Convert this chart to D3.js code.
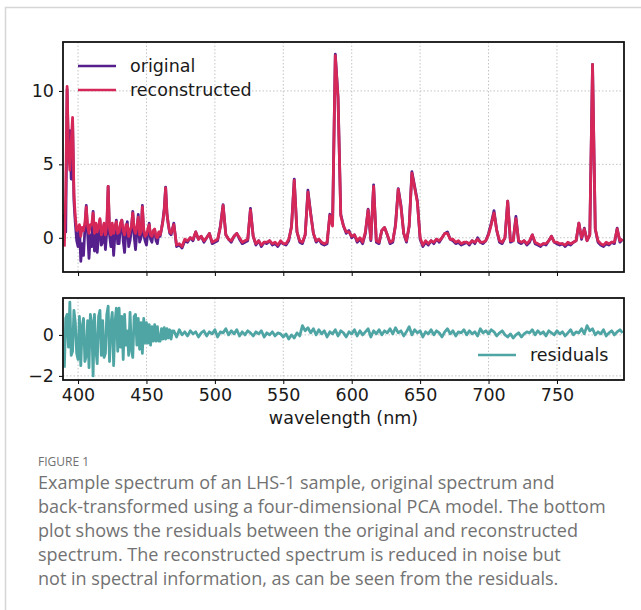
<!DOCTYPE html>
<html>
<head>
<meta charset="utf-8">
<script src="https://cdn.jsdelivr.net/npm/d3@7"></script>
<style>
  body { margin: 0; background: #fff; }
  svg { display: block; }
</style>
</head>
<body>
<div id="chart"></div>
<script>
// sampling grid of the spectrum (nm): 1 nm steps in the noisy blue end, then 2 nm
const wavelengths = d3.range(390, 470, 1).concat(d3.range(470, 800, 2));

// original spectrum (390-469 by 1 nm, then 470-798 by 2 nm)
const original = [
  1.6, 0.4, 10.1, 5.5, 7.3, 4.0, 8.0, 2.5, 1.0, -0.2,
  -0.6, 0.8, -1.6, -0.4, -1.2, 0.6, 2.2, 0.3, -1.4, 0.2,
  -0.6, 1.8, -0.9, 0.5, -1.0, 0.1, 1.2, -0.5, -0.3, 0.9,
  -0.8, 0.4, 3.5, 0.2, -0.6, 0.7, -1.2, 0.3, 1.2, -0.4,
  -0.4, 0.8, 1.2, -0.2, -1.0, 0.5, 1.1, -0.6, -0.2, 0.6,
  1.8, 0.1, -0.8, 0.4, 1.6, -0.3, 0.0, 2.2, 0.2, -0.2,
  -0.5, 0.3, 1.0, -0.1, -0.3, 0.4, 0.5, -0.2, -0.4, 0.3,
  0.1, 0.6, 1.2, 2.0, 3.45, 1.6, 0.9, 0.3, 0.2, 0.6,
  1.0, -0.6, -0.5, -0.7, -0.2,
  -0.3, 0.0, -0.2, 0.4, -0.1,
  0.1, -0.3, 0.0, 0.3, -0.4,
  -0.3, -0.2, 0.8, 2.25, 0.2,
  -0.1, -0.3, 0.1, 0.3, -0.1,
  -0.4, -0.3, -0.2, 2.0, 0.1,
  -0.5, -0.2, -0.6, -0.3, -0.4,
  -0.2, -0.5, -0.4, -0.6, -0.3,
  -0.4, -0.5, -0.2, 0.8, 4.0,
  0.4, -0.3, -0.4, 0.2, 3.25,
  1.7, 0.3, -0.3, -0.1, -0.4,
  -0.5, -0.4, 1.6, 0.9, 12.5,
  9.6, 1.6, 0.8, 0.3, 0.5,
  0.0, 0.2, -0.3, -0.1, -0.4,
  0.3, 1.95, -0.2, 3.6, -0.3,
  -0.4, 0.5, 0.7, 0.2, -0.4,
  -0.3, 0.9, 3.35, 2.2, 0.3,
  -0.3, 0.8, 4.5, 3.5, 2.5,
  -0.1, -0.6, -0.3, -0.5, -0.2,
  -0.4, -0.1, -0.3, 0.0, 0.3,
  0.4, -0.1, -0.2, -0.4, -0.3,
  -0.5, -0.4, -0.3, -0.5, -0.2,
  -0.4, 0.0, -0.3, -0.4, -0.2,
  0.3, 1.0, 1.85, 0.5, -0.3,
  -0.4, 0.0, 2.5, -0.3, -0.2,
  1.45, -0.3, -0.4, -0.2, -0.5,
  -0.3, 0.2, -0.4, -0.5, -0.6,
  -0.4, -0.5, -0.2, 0.1, -0.3,
  -0.4, -0.5, -0.4, -0.6, -0.4,
  -0.5, -0.3, -0.2, 1.0, -0.1,
  0.65, -0.2, 0.2, 11.8, 0.6,
  -0.3, -0.5, -0.6, -0.4, -0.5,
  -0.3, -0.4, 0.65, -0.3, -0.1
];

// PCA reconstructed spectrum
const reconstructed = [
  -0.6, 3.0, 10.3, 6.0, 4.6, 6.5, 8.2, 3.0, 1.4, 0.5,
  0.6, 0.9, 0.1, 0.7, 0.5, 1.0, 2.1, 0.8, 0.3, 0.9,
  0.9, 1.7, 0.3, 1.0, 0.4, 0.8, 1.3, 0.2, 0.5, 1.0,
  0.2, 0.9, 3.5, 0.6, 0.2, 1.0, 0.3, 0.8, 1.1, 0.3,
  0.4, 1.0, 1.2, 0.5, 0.2, 0.9, 0.9, 0.1, 0.5, 0.8,
  1.7, 0.6, 0.3, 0.8, 1.4, 0.2, 0.4, 2.1, 0.6, 0.1,
  0.2, 0.6, 0.9, 0.2, 0.1, 0.5, 0.6, 0.1, 0.0, 0.4,
  0.2, 0.6, 1.1, 1.9, 3.4, 1.6, 0.9, 0.4, 0.3, 0.6,
  0.9, -0.5, -0.4, -0.6, -0.1,
  -0.2, 0.0, -0.1, 0.4, -0.1,
  0.1, -0.2, 0.0, 0.3, -0.3,
  -0.2, -0.1, 0.7, 2.2, 0.2,
  -0.1, -0.2, 0.1, 0.3, 0.0,
  -0.3, -0.2, -0.1, 1.9, 0.1,
  -0.4, -0.2, -0.5, -0.3, -0.3,
  -0.2, -0.4, -0.3, -0.5, -0.2,
  -0.4, -0.4, -0.1, 0.7, 3.9,
  0.4, -0.2, -0.3, 0.2, 3.1,
  1.6, 0.3, -0.2, -0.1, -0.3,
  -0.4, -0.3, 1.5, 0.8, 12.4,
  9.5, 1.5, 0.8, 0.4, 0.4,
  0.1, 0.2, -0.2, 0.0, -0.3,
  0.4, 1.9, -0.1, 3.5, -0.2,
  -0.3, 0.5, 0.7, 0.2, -0.3,
  -0.2, 0.8, 3.3, 2.1, 0.3,
  -0.2, 0.8, 4.4, 3.4, 2.4,
  0.0, -0.5, -0.2, -0.4, -0.2,
  -0.3, -0.1, -0.2, 0.0, 0.3,
  0.3, -0.1, -0.1, -0.3, -0.2,
  -0.4, -0.3, -0.3, -0.4, -0.2,
  -0.3, -0.1, -0.3, -0.3, -0.2,
  0.2, 0.9, 1.7, 0.5, -0.2,
  -0.3, 0.0, 2.5, -0.2, -0.2,
  1.3, -0.2, -0.3, -0.2, -0.4,
  -0.2, 0.2, -0.3, -0.4, -0.5,
  -0.4, -0.4, -0.2, 0.1, -0.3,
  -0.3, -0.4, -0.4, -0.5, -0.3,
  -0.4, -0.3, -0.2, 1.0, 0.0,
  0.6, -0.2, 0.2, 11.8, 0.6,
  -0.2, -0.4, -0.5, -0.3, -0.4,
  -0.3, -0.3, 0.6, -0.2, -0.1
];

// residuals (bottom panel)
const residuals = [
  -1.6, 0.8, 1.0, -0.6, 1.6, -1.0, -0.8, 1.2, 0.6, -0.9,
  -1.2, 0.9, -1.5, 0.4, 0.8, -1.3, -1.0, 0.7, -1.6, 1.0,
  0.6, -2.0, 1.0, -0.7, -1.4, 0.9, 1.2, -1.0, 0.7, -1.1,
  -0.9, 1.0, 1.4, -1.3, 0.5, 1.1, -1.5, 0.6, 1.3, -0.8,
  1.3, -0.6, 0.9, -1.2, 1.0, -0.5, 0.2, -1.0, 1.1, -0.7,
  -1.1, 0.9, 1.0, -0.5, 0.8, -0.7, 0.6, -0.9, 0.8, -0.4,
  0.6, -0.4, 0.5, -0.5, 0.4, -0.3, 0.5, -0.3, 0.4, -0.3,
  -0.3, 0.3, -0.2, 0.35, -0.2, 0.3, -0.15, 0.25, -0.2, 0.2,
  0.2, -0.1, 0.25, 0.0, 0.15,
  -0.05, 0.2, 0.05, 0.15, -0.1,
  0.1, 0.2, -0.05, 0.15, 0.05,
  0.25, -0.1, 0.15, 0.1, 0.3,
  0.0, 0.2, 0.05, 0.25, -0.05,
  0.15, 0.0, 0.2, 0.1, -0.05,
  0.15, 0.05, 0.2, -0.1, 0.1,
  0.0, 0.15, -0.05, 0.1, 0.05,
  -0.1, 0.05, -0.2, 0.0, -0.15,
  0.1, -0.05, 0.45, 0.2, 0.35,
  0.1, 0.3, 0.0, 0.25, 0.05,
  0.2, -0.1, 0.15, 0.05, 0.25,
  -0.05, 0.2, 0.1, -0.1, 0.15,
  0.05, 0.25, -0.05, 0.2, 0.0,
  0.15, 0.3, -0.1, 0.2, 0.05,
  0.25, 0.0, 0.2, 0.1, 0.3,
  0.05, 0.35, 0.1, 0.2, -0.05,
  0.15, 0.4, 0.0, 0.25, 0.1,
  0.2, -0.1, 0.15, 0.05, 0.25,
  0.0, 0.2, 0.1, -0.1, 0.15,
  0.3, 0.05, 0.2, -0.05, 0.15,
  0.1, 0.25, 0.0, 0.2, 0.05,
  0.15, -0.05, 0.3, 0.1, 0.2,
  0.05, 0.25, 0.15, -0.05, 0.1,
  0.2, 0.0, -0.1, 0.05, -0.15,
  0.0, 0.1, -0.1, 0.05, 0.15,
  0.1, 0.25, 0.0, 0.2, 0.05,
  0.15, -0.05, 0.2, 0.1, 0.0,
  0.2, 0.05, 0.15, -0.05, 0.1,
  0.25, 0.0, 0.15, 0.1, 0.3,
  0.05, 0.45, 0.2, 0.3, 0.0,
  0.15, 0.05, 0.25, -0.05, 0.1,
  0.2, 0.0, 0.15, 0.25, 0.1
];

const xTicks = [400, 450, 500, 550, 600, 650, 700, 750];
const yTicksTop = [0, 5, 10];
const yTicksBottom = [-2, 0];

const captionLabel = "FIGURE 1";
const captionLines = [
  "Example spectrum of an LHS-1 sample, original spectrum and",
  "back-transformed using a four-dimensional PCA model. The bottom",
  "plot shows the residuals between the original and reconstructed",
  "spectrum. The reconstructed spectrum is reduced in noise but",
  "not in spectral information, as can be seen from the residuals."
];

const colors = { original: "#55208c", reconstructed: "#d62858", residuals: "#4ea5a4" };
const plotFont = "'DejaVu Sans', sans-serif";
const fontSize = 17.5;

const W = 641, H = 610;
const svg = d3.select("#chart").append("svg").attr("width", W).attr("height", H);

// card frame (top and left border)
svg.append("path")
  .attr("d", `M5.5,${H} V7.5 H${W}`)
  .attr("fill", "none")
  .attr("stroke", "#d6d6d6")
  .attr("stroke-width", 1.5);

// panel geometry
const left = 63, right = 624;
const top1 = { y0: 42, y1: 272 };
const bot1 = { y0: 298, y1: 380 };

const x = d3.scaleLinear().domain([389, 799]).range([left, right]);
const yTop = d3.scaleLinear().domain([-2.33, 13.33]).range([top1.y1, top1.y0]);
const yBot = d3.scaleLinear().domain([-2.2, 1.8]).range([bot1.y1, bot1.y0]);

function drawPanel(y, yTicks, series, showXLabels) {
  const [yb, yt] = y.range();
  const g = svg.append("g");

  g.append("defs").append("clipPath")
    .attr("id", "clip" + yt)
    .append("rect")
    .attr("x", left).attr("y", yt)
    .attr("width", right - left).attr("height", yb - yt);

  // dotted grid
  g.selectAll(".vgrid").data(xTicks).join("line")
    .attr("x1", d => x(d)).attr("x2", d => x(d))
    .attr("y1", yt).attr("y2", yb)
    .attr("stroke", "#c4c4c4").attr("stroke-width", 1)
    .attr("stroke-dasharray", "1.5,2");
  g.selectAll(".hgrid").data(yTicks).join("line")
    .attr("x1", left).attr("x2", right)
    .attr("y1", d => y(d)).attr("y2", d => y(d))
    .attr("stroke", "#c4c4c4").attr("stroke-width", 1)
    .attr("stroke-dasharray", "1.5,2");

  // lines
  const lines = g.append("g").attr("clip-path", `url(#clip${yt})`);
  series.forEach(s => {
    const line = d3.line()
      .x((d, i) => x(wavelengths[i]))
      .y(d => y(d));
    lines.append("path")
      .datum(s.values)
      .attr("fill", "none")
      .attr("stroke", s.color)
      .attr("stroke-width", 2.8)
      .attr("stroke-linejoin", "round")
      .attr("d", line);
  });

  // axes
  const xAxis = d3.axisBottom(x).tickValues(xTicks).tickSize(4).tickPadding(5)
    .tickFormat(showXLabels ? d3.format("d") : "");
  g.append("g")
    .attr("transform", `translate(0,${yb})`)
    .call(xAxis)
    .call(a => a.select(".domain").remove())
    .call(a => a.selectAll("text").attr("fill", "#1a1a1a")
      .style("font-family", plotFont).style("font-size", fontSize + "px"));

  const yAxis = d3.axisLeft(y).tickValues(yTicks).tickSize(4).tickPadding(5)
    .tickFormat(d => d < 0 ? "\u2212" + Math.abs(d) : d);
  g.append("g")
    .attr("transform", `translate(${left},0)`)
    .call(yAxis)
    .call(a => a.select(".domain").remove())
    .call(a => a.selectAll("text").attr("fill", "#1a1a1a")
      .style("font-family", plotFont).style("font-size", fontSize + "px"));

  // frame
  g.append("rect")
    .attr("x", left).attr("y", yt)
    .attr("width", right - left).attr("height", yb - yt)
    .attr("fill", "none").attr("stroke", "#111").attr("stroke-width", 1.8);
  return g;
}

drawPanel(yTop, yTicksTop, [
  { values: original, color: colors.original },
  { values: reconstructed, color: colors.reconstructed }
], false);

drawPanel(yBot, yTicksBottom, [
  { values: residuals, color: colors.residuals }
], true);

// legends
function legendItem(xl, yl, color, label) {
  svg.append("line")
    .attr("x1", xl).attr("x2", xl + 38)
    .attr("y1", yl).attr("y2", yl)
    .attr("stroke", color).attr("stroke-width", 2.6);
  svg.append("text")
    .attr("x", xl + 52).attr("y", yl)
    .attr("dy", "0.35em")
    .style("font-family", plotFont)
    .style("font-size", fontSize + "px")
    .attr("fill", "#1a1a1a")
    .text(label);
}
legendItem(78, 66, colors.original, "original");
legendItem(78, 90, colors.reconstructed, "reconstructed");
legendItem(478, 355, colors.residuals, "residuals");

// x axis label
svg.append("text")
  .attr("x", (left + right) / 2)
  .attr("y", 424)
  .attr("text-anchor", "middle")
  .style("font-family", plotFont)
  .style("font-size", fontSize + "px")
  .attr("fill", "#1a1a1a")
  .text("wavelength (nm)");

// caption
const capFont = "'Open Sans', sans-serif";
svg.append("text")
  .attr("x", 38).attr("y", 466)
  .style("font-family", capFont)
  .style("font-size", "12px")
  .attr("fill", "#707070")
  .text(captionLabel);

const cap = svg.append("g");
const probe = cap.append("text")
  .style("font-family", capFont)
  .style("font-size", "100px")
  .text(captionLines[1]);
const capSize = 100 * 568 / probe.node().getComputedTextLength();
probe.remove();

cap.selectAll("text").data(captionLines).join("text")
  .attr("x", 38)
  .attr("y", (d, i) => 489 + i * 24)
  .style("font-family", capFont)
  .style("font-size", capSize + "px")
  .attr("fill", "#727272")
  .text(d => d);
</script>
</body>
</html>
